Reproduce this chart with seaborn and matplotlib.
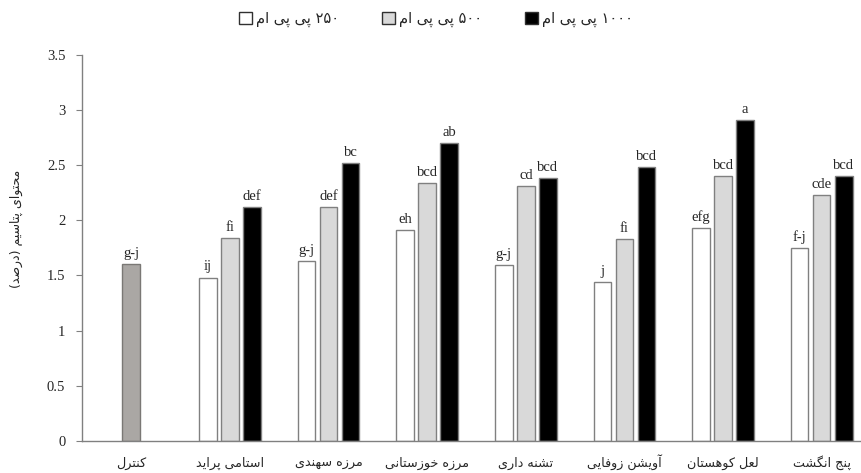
import matplotlib
matplotlib.use("Agg")
import matplotlib.pyplot as plt
import seaborn as sns
import pandas as pd

# Potassium content (%) by plant extract and concentration
categories = ["کنترل", "استامی پراید", "مرزه سهندی", "مرزه خوزستانی",
              "تشنه داری", "آویشن زوفایی", "لعل کوهستان", "پنج انگشت"]
doses = ["۲۵۰ پی پی ام", "۵۰۰ پی پی ام", "۱۰۰۰ پی پی ام"]

control_value = [1.60]
control_letters = ["g-j"]

values_250 = [1.48, 1.63, 1.91, 1.59, 1.44, 1.93, 1.75]
values_500 = [1.84, 2.12, 2.34, 2.31, 1.83, 2.40, 2.23]
values_1000 = [2.12, 2.52, 2.70, 2.38, 2.48, 2.91, 2.40]

letters_250 = ["ij", "g-j", "eh", "g-j", "j", "efg", "f-j"]
letters_500 = ["fi", "def", "bcd", "cd", "fi", "bcd", "cde"]
letters_1000 = ["def", "bc", "ab", "bcd", "bcd", "a", "bcd"]

y_label = "محتوای پتاسیم (درصد)"

# Contextual Arabic-script letter forms: isolated, final, initial, medial
_FORMS = {
    'ا': ('\ufe8d', '\ufe8e', None, None),
    'آ': ('\ufe81', '\ufe82', None, None),
    'پ': ('\ufb56', '\ufb57', '\ufb58', '\ufb59'),
    'ت': ('\ufe95', '\ufe96', '\ufe97', '\ufe98'),
    'ج': ('\ufe9d', '\ufe9e', '\ufe9f', '\ufea0'),
    'ح': ('\ufea1', '\ufea2', '\ufea3', '\ufea4'),
    'خ': ('\ufea5', '\ufea6', '\ufea7', '\ufea8'),
    'د': ('\ufea9', '\ufeaa', None, None),
    'ر': ('\ufead', '\ufeae', None, None),
    'ز': ('\ufeaf', '\ufeb0', None, None),
    'س': ('\ufeb1', '\ufeb2', '\ufeb3', '\ufeb4'),
    'ش': ('\ufeb5', '\ufeb6', '\ufeb7', '\ufeb8'),
    'ص': ('\ufeb9', '\ufeba', '\ufebb', '\ufebc'),
    'ع': ('\ufec9', '\ufeca', '\ufecb', '\ufecc'),
    'ف': ('\ufed1', '\ufed2', '\ufed3', '\ufed4'),
    'ک': ('\ufb8e', '\ufb8f', '\ufb90', '\ufb91'),
    'گ': ('\ufb92', '\ufb93', '\ufb94', '\ufb95'),
    'ل': ('\ufedd', '\ufede', '\ufedf', '\ufee0'),
    'م': ('\ufee1', '\ufee2', '\ufee3', '\ufee4'),
    'ن': ('\ufee5', '\ufee6', '\ufee7', '\ufee8'),
    'ه': ('\ufee9', '\ufeea', '\ufeeb', '\ufeec'),
    'و': ('\ufeed', '\ufeee', None, None),
    'ی': ('\ufbfc', '\ufbfd', '\ufbfe', '\ufbff'),
}


def rtl(text):
    """Join Persian letters and lay the string out right-to-left."""
    shaped = []
    for i, ch in enumerate(text):
        forms = _FORMS.get(ch)
        if forms is None:
            shaped.append(ch)
            continue
        prev = text[i - 1] if i > 0 else ''
        nxt = text[i + 1] if i + 1 < len(text) else ''
        join_prev = prev in _FORMS and _FORMS[prev][2] is not None
        join_next = forms[2] is not None and nxt in _FORMS
        iso, fin, ini, med = forms
        if join_prev and join_next:
            shaped.append(med)
        elif join_prev:
            shaped.append(fin)
        elif join_next:
            shaped.append(ini)
        else:
            shaped.append(iso)
    runs, buf = [], ''
    for ch in shaped:
        if ch.isdigit():
            buf += ch
        else:
            if buf:
                runs.append(buf)
                buf = ''
            runs.append(ch)
    if buf:
        runs.append(buf)
    mirror = {'(': ')', ')': '('}
    return ''.join(mirror.get(r, r) for r in reversed(runs))


sns.set_style("white")
plt.rcParams['font.family'] = ['DejaVu Sans']
serif = "Liberation Serif"

treated = categories[1:]
df = pd.DataFrame({
    "extract": treated * 3,
    "dose": [doses[0]] * 7 + [doses[1]] * 7 + [doses[2]] * 7,
    "potassium": values_250 + values_500 + values_1000,
})
df_control = pd.DataFrame({"extract": categories[:1], "potassium": control_value})

fig = plt.figure(figsize=(8.61, 4.73), dpi=100)
ax = fig.add_axes([82 / 861, 32.3 / 473, 789 / 861, 385.7 / 473])

sns.barplot(data=df_control, x="extract", y="potassium", order=categories,
            width=0.18, color="#aaa7a4", edgecolor="#7a7875", linewidth=1.0,
            saturation=1, ax=ax)
sns.barplot(data=df, x="extract", y="potassium", hue="dose", hue_order=doses,
            order=categories, width=0.67, gap=0.2,
            palette=["#ffffff", "#d9d9d9", "#000000"], edgecolor="#808080",
            linewidth=1.0, saturation=1, ax=ax)

for cont, labs in zip(ax.containers,
                      [control_letters, letters_250, letters_500, letters_1000]):
    ax.bar_label(cont, labels=labs, padding=3, fontsize=10.5, family=serif)

ax.set_ylim(0, 3.5)
ax.set_xlim(-0.5, 7.5)
ax.set_yticks([0, 0.5, 1, 1.5, 2, 2.5, 3, 3.5],
              ["0", "0.5", "1", "1.5", "2", "2.5", "3", "3.5"])
for lab in ax.get_yticklabels():
    lab.set_family(serif)
    lab.set_fontsize(10.5)
ax.set_xticks(range(len(categories)), [rtl(c) for c in categories], fontsize=9.2)
for lab in ax.get_xticklabels():
    lab.set_verticalalignment("baseline")
ax.set_xticks([i - 0.5 for i in range(len(categories) + 1)], minor=True)
ax.tick_params(axis="x", which="major", length=0, pad=19)
ax.tick_params(axis="x", which="minor", length=4, color="#808080", direction="out")
ax.tick_params(axis="y", length=4, color="#808080", direction="out", pad=8,
               left=True)
ax.set_xlabel("")
ax.set_ylabel(rtl(y_label), fontsize=9)
ax.yaxis.set_label_coords(-0.075, 0.55)
for side in ("top", "right"):
    ax.spines[side].set_visible(False)
for side in ("left", "bottom"):
    ax.spines[side].set_color("#808080")
    ax.spines[side].set_linewidth(1.0)

handles, labels = ax.get_legend_handles_labels()
for h in handles:
    h.set_edgecolor("#303030")
ax.legend(handles, [rtl(l) for l in labels], ncol=3, frameon=False,
          loc="center", bbox_to_anchor=(436 / 861, 1 - 19 / 473),
          bbox_transform=fig.transFigure, fontsize=10.5, handlelength=0.9,
          handleheight=0.9, handletextpad=0.3, columnspacing=2.9)

fig.savefig("out.png", dpi=100)
